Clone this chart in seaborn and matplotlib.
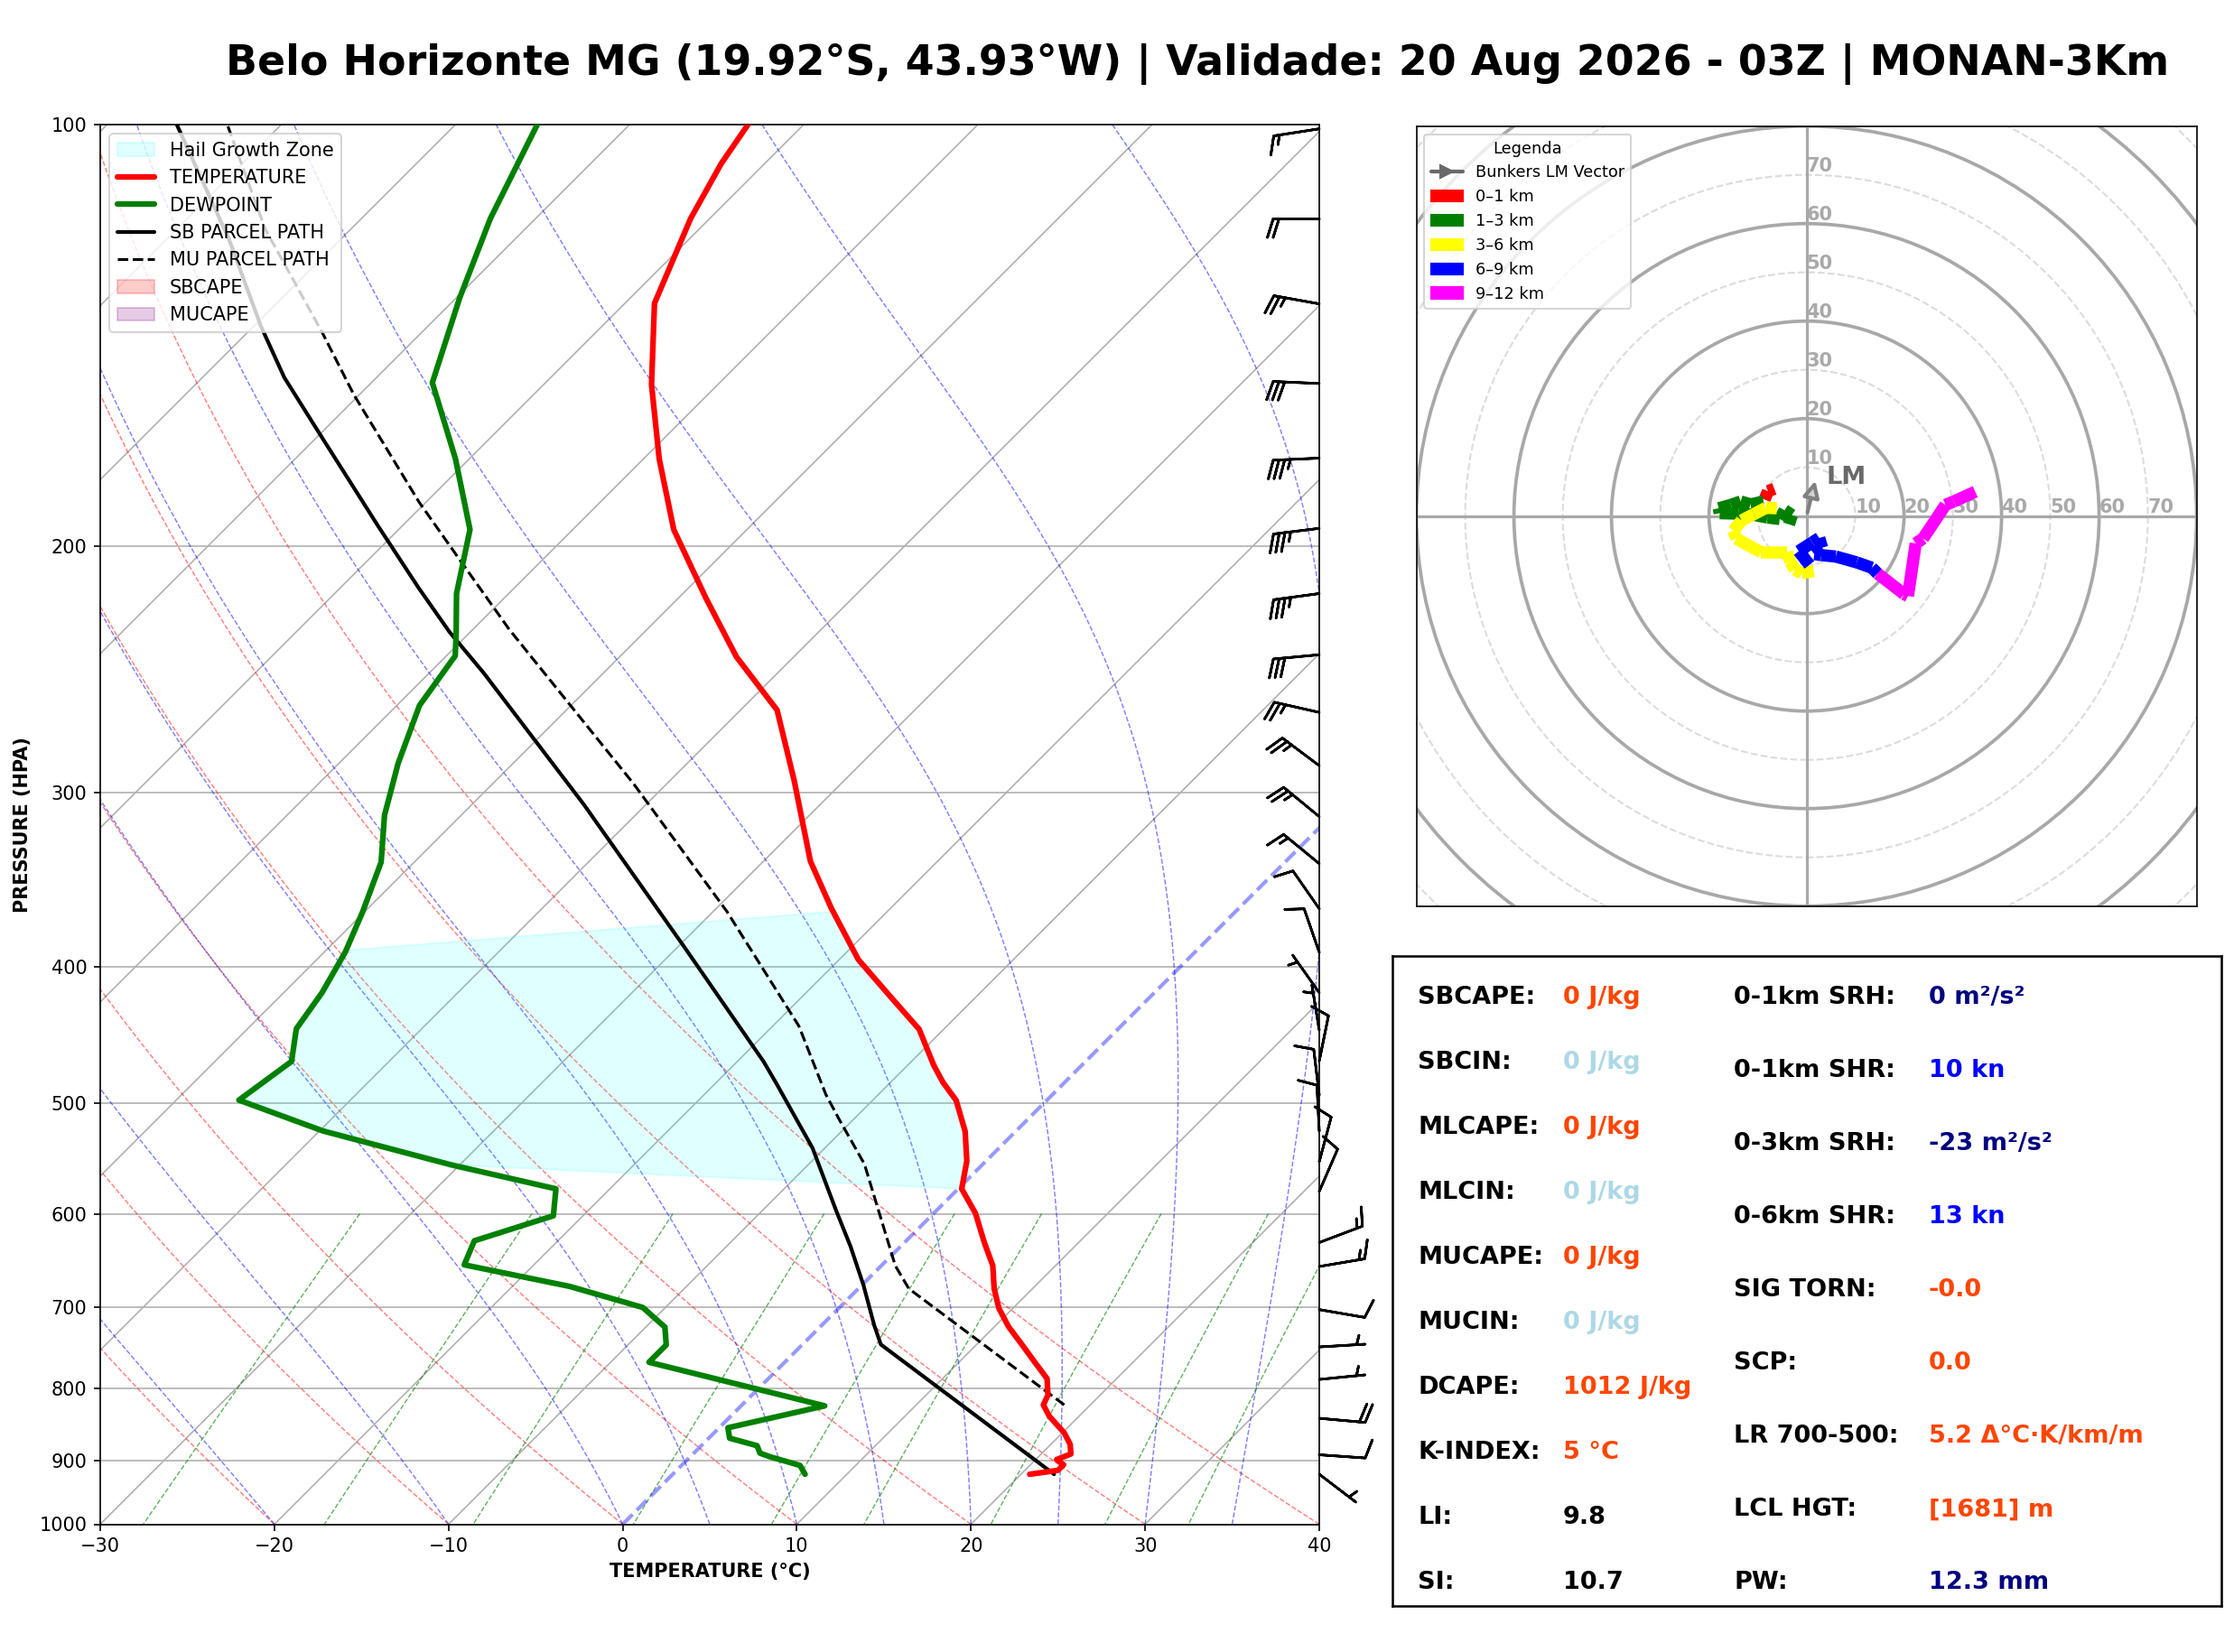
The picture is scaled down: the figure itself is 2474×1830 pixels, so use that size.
import numpy as np
import matplotlib
matplotlib.use("Agg")
import matplotlib.pyplot as plt
import matplotlib.transforms as mtransforms
from matplotlib.collections import LineCollection
from matplotlib.lines import Line2D
from matplotlib.patches import Patch, Circle
from matplotlib.ticker import ScalarFormatter, NullLocator, NullFormatter
import seaborn as sns

sns.set_style("ticks", {"axes.edgecolor": "black", "text.color": "black",
                        "xtick.color": "black", "ytick.color": "black",
                        "axes.labelcolor": "black"})
plt.rcParams['font.family'] = ['DejaVu Sans']

# ---- sounding data ----
temp_p = [921.0, 915.1, 906.7, 899.0, 890.8, 876.7, 860.3, 837.3, 821.7, 808.5,
          786.9, 764.0, 744.0, 722.4, 701.0, 678.7, 653.5, 629.3, 599.6, 575.9,
          550.2, 524.0, 497.9, 483.3, 470.0, 443.0, 420.0, 395.0, 363.0, 336.0,
          294.0, 262.0, 240.0, 218.0, 194.7, 173.3, 153.4, 134.2, 116.7, 106.6, 100.0]
temp_c = [20.5, 21.9, 21.9, 21.2, 21.7, 21.1, 20.1, 18.3, 17.3, 17.0,
          16.0, 14.2, 12.6, 10.8, 9.2, 7.8, 6.4, 4.6, 2.4, 0.2,
          -1.1, -2.9, -5.2, -7.0, -8.5, -11.4, -14.9, -18.9, -23.4, -27.3,
          -32.9, -37.9, -43.3, -48.4, -54.2, -59.1, -63.8, -68.3, -71.1, -72.5, -73.2]

dewp_p = [921.0, 907.7, 895.0, 889.6, 878.7, 868.0, 853.2, 823.0, 766.0, 744.5,
          723.0, 700.0, 676.2, 652.6, 627.3, 602.0, 575.9, 553.6, 523.6, 497.7,
          467.0, 442.6, 417.0, 390.0, 365.3, 336.5, 311.5, 286.0, 260.0, 239.6,
          230.5, 216.3, 194.7, 173.3, 152.9, 133.0, 116.7, 100.0]
dewp_c = [7.6, 6.8, 4.6, 3.8, 3.2, 1.2, 0.5, 4.8, -7.8, -7.8,
          -8.9, -11.3, -16.7, -24.0, -24.8, -21.7, -23.1, -30.5, -39.8, -46.4,
          -45.6, -47.2, -47.8, -48.8, -50.1, -51.9, -54.4, -56.6, -58.7, -59.5,
          -60.8, -63.0, -65.9, -70.8, -76.5, -79.8, -82.6, -85.3]

sb_p = [921.0, 744.0, 720.6, 674.9, 632.8, 596.4, 538.6, 483.3, 467.0, 387.0,
        306.4, 246.4, 230.4, 214.3, 193.5, 167.0, 151.6, 139.3, 120.8, 100.0]
sb_c = [21.9, 4.5, 3.0, 0.1, -2.9, -5.8, -10.7, -16.6, -18.5, -29.6,
        -43.5, -56.9, -61.2, -65.5, -71.4, -79.8, -85.3, -89.6, -96.4, -106.0]

mu_p = [821.7, 678.7, 653.5, 593.3, 553.0, 513.0, 493.3, 440.6, 365.0, 295.8,
        229.5, 204.8, 186.1, 156.0, 140.8, 118.8, 100.0]
mu_c = [18.5, 2.9, 0.8, -3.6, -6.8, -10.9, -13.0, -18.5, -29.2, -41.9,
        -57.9, -64.7, -70.4, -80.3, -85.7, -94.9, -103.1]

# hail growth zone limits (hPa) on the temperature and dewpoint curves
hgz_temp_p = (575.9, 365.0)
hgz_dewp_p = (389.0, 553.6)

# wind barbs (kt)
barb_p = [100.7, 116.8, 134.3, 153.1, 173.1, 194.3, 216.3, 239.2, 263.0, 287.1,
          312.2, 337.3, 363.3, 390.3, 417.1, 443.6, 466.6, 493.6, 523.8, 550.7,
          578.3, 629.1, 654.4, 702.5, 747.0, 788.0, 840.0, 892.0, 921.0]
barb_u = [14.8, 20.0, 24.6, 30.0, 35.0, 34.7, 34.7, 29.9, 24.4, 20.0,
          19.3, 11.6, 5.7, 3.3, 2.9, 0.8, -2.0, 1.2, 0.5, -2.6,
          -4.0, -14.0, -14.8, -9.9, -5.0, -5.0, -19.9, -10.0, -4.0]
barb_v = [2.3, 0.0, -4.4, -1.3, 1.6, 4.3, 4.7, 2.8, -5.5, -15.0,
          -15.9, -9.5, -8.2, -9.5, -4.1, -4.9, -9.8, -9.9, -10.0, -9.7,
          -9.2, -5.3, -2.5, 1.7, -0.3, -0.5, 1.8, 0.7, 3.05]

# hodograph layers (kt)
hodo_layers = ["0–1 km", "1–3 km", "3–6 km", "6–9 km", "9–12 km"]
hodo_colors = ["red", "green", "yellow", "blue", "magenta"]
hodo_u = [
    [-6.6, -7.9, -8.6],
    [-8.8, -11.5, -13.5, -15.5, -18.0, -17.8, -14.0, -11.0, -8.0, -5.5, -4.5, -3.0, -3.6],
    [-6.1, -8.3, -10.8, -13.3, -15.0, -14.4, -11.6, -9.3, -4.0, -3.3, -2.4, -1.0, 1.5],
    [0.6, -1.6, 1.2, 2.6, 3.2, 1.6, 3.0, 6.0, 10.3, 13.4, 14.6],
    [14.6, 20.0, 20.8, 22.4, 23.9, 28.5, 30.2, 34.6],
]
hodo_v = [
    [5.6, 5.1, 3.4],
    [3.0, 2.4, 3.0, 2.3, 1.6, 0.6, 0.5, 0.3, -0.3, -0.6, 1.2, 0.2, -1.7],
    [1.6, 1.7, 0.4, -0.9, -3.0, -4.6, -6.2, -7.4, -7.4, -9.4, -11.0, -11.7, -11.3],
    [-10.0, -7.2, -5.4, -4.5, -6.5, -7.8, -8.0, -8.3, -9.5, -10.6, -11.8],
    [-11.8, -16.0, -16.4, -5.6, -4.6, 2.3, 3.0, 5.0],
]
lm_u, lm_v = 2.0, 8.0

title = "Belo Horizonte MG (19.92°S, 43.93°W) | Validade: 20 Aug 2026 - 03Z | MONAN-3Km"

left_items = [("SBCAPE:", "0 J/kg", "orangered"), ("SBCIN:", "0 J/kg", "lightblue"),
              ("MLCAPE:", "0 J/kg", "orangered"), ("MLCIN:", "0 J/kg", "lightblue"),
              ("MUCAPE:", "0 J/kg", "orangered"), ("MUCIN:", "0 J/kg", "lightblue"),
              ("DCAPE:", "1012 J/kg", "orangered"), ("K-INDEX:", "5 °C", "orangered"),
              ("LI:", "9.8", "black"), ("SI:", "10.7", "black")]
right_items = [("0-1km SRH:", "0 m²/s²", "navy"), ("0-1km SHR:", "10 kn", "blue"),
               ("0-3km SRH:", "-23 m²/s²", "navy"), ("0-6km SHR:", "13 kn", "blue"),
               ("SIG TORN:", "-0.0", "orangered"), ("SCP:", "0.0", "orangered"),
               ("LR 700-500:", "5.2 Δ°C·K/km/m", "orangered"), ("LCL HGT:", "[1681] m", "orangered"),
               ("PW:", "12.3 mm", "navy")]

# ---- figure ----
W, H, DPI = 2474, 1830, 150
fig = plt.figure(figsize=(W / DPI, H / DPI), dpi=DPI)
skew_rect = [111 / W, 1 - 1688.5 / H, 1350 / W, 1550.5 / H]
ax = fig.add_axes(skew_rect)

# 45 degree skew: degC shift per decade of pressure
K = (skew_rect[3] * H) / (skew_rect[2] * W / 70.0)


def skew(t, p):
    return np.asarray(t) + K * np.log10(1000.0 / np.asarray(p))


ax.set_yscale('log')
ax.set_ylim(1000, 100)
ax.set_xlim(-30, 40)
ax.yaxis.set_major_formatter(ScalarFormatter())
ax.set_yticks(np.arange(100, 1001, 100))
ax.yaxis.set_minor_locator(NullLocator())
ax.yaxis.set_minor_formatter(NullFormatter())
ax.set_xticks(np.arange(-30, 41, 10))
ax.grid(True, axis='y', color='#b0b0b0', lw=0.8)

pp = np.linspace(1000, 100, 200)

# isotherms
for t0 in range(-120, 41, 10):
    if t0 == 0:
        continue
    ax.plot(skew(np.full_like(pp, t0), pp), pp, color='#b0b0b0', lw=0.8, zorder=1)
ax.plot(skew(np.zeros_like(pp), pp), pp, color='blue', ls='--', lw=2, alpha=0.4, zorder=2)

# dry adiabats
for t0 in range(-30, 41, 10):
    tt = (t0 + 273.15) * (pp / 1000.0) ** 0.2857 - 273.15
    ax.plot(skew(tt, pp), pp, color='red', ls='--', lw=0.7, alpha=0.5, zorder=1)


# moist adiabats
def dtdp(T, p):
    es = 6.112 * np.exp(17.67 * (T - 273.15) / (T - 29.65))
    rs = 0.622 * es / (p - es)
    return (287.04 * T + 2.501e6 * rs) / (1005.7 + 2.501e6 ** 2 * rs * 0.622 / (287.04 * T * T)) / p


for t0 in list(range(-30, 0, 10)) + list(range(0, 41, 5)):
    T = np.empty_like(pp)
    T[0] = t0 + 273.15
    for i in range(1, len(pp)):
        h = pp[i] - pp[i - 1]
        k1 = dtdp(T[i - 1], pp[i - 1])
        k2 = dtdp(T[i - 1] + h / 2 * k1, pp[i - 1] + h / 2)
        k3 = dtdp(T[i - 1] + h / 2 * k2, pp[i - 1] + h / 2)
        k4 = dtdp(T[i - 1] + h * k3, pp[i])
        T[i] = T[i - 1] + h / 6 * (k1 + 2 * k2 + 2 * k3 + k4)
    ax.plot(skew(T - 273.15, pp), pp, color='blue', ls='--', lw=0.7, alpha=0.5, zorder=1)

# mixing ratio lines
pm = np.linspace(600, 1000, 50)
for w in [0.0004, 0.001, 0.002, 0.004, 0.007, 0.01, 0.016, 0.024, 0.032]:
    e = w * pm / (0.622 + w)
    a = np.log(e / 6.112)
    td = 243.5 * a / (17.67 - a)
    ax.plot(skew(td, pm), pm, color='green', ls='--', lw=0.7, alpha=0.6, zorder=1)

# hail growth zone
lp_t = np.log(np.array(temp_p)[::-1])
lp_d = np.log(np.array(dewp_p)[::-1])
p_side_t = np.exp(np.linspace(np.log(hgz_temp_p[0]), np.log(hgz_temp_p[1]), 60))
p_side_d = np.exp(np.linspace(np.log(hgz_dewp_p[0]), np.log(hgz_dewp_p[1]), 60))
t_side = np.interp(np.log(p_side_t), lp_t, np.array(temp_c)[::-1])
d_side = np.interp(np.log(p_side_d), lp_d, np.array(dewp_c)[::-1])
ax.fill(np.concatenate([skew(t_side, p_side_t), skew(d_side, p_side_d)]),
        np.concatenate([p_side_t, p_side_d]), color='cyan', alpha=0.12, zorder=2)

# profiles
sns.lineplot(x=skew(temp_c, temp_p), y=temp_p, sort=False, estimator=None,
             color='red', lw=3, ax=ax, zorder=5)
sns.lineplot(x=skew(dewp_c, dewp_p), y=dewp_p, sort=False, estimator=None,
             color='green', lw=3, ax=ax, zorder=5)
sns.lineplot(x=skew(sb_c, sb_p), y=sb_p, sort=False, estimator=None,
             color='black', lw=2, ax=ax, zorder=4)
sns.lineplot(x=skew(mu_c, mu_p), y=mu_p, sort=False, estimator=None,
             color='black', lw=1.5, ls='--', ax=ax, zorder=4)
ax.set_xlim(-30, 40)
ax.set_ylim(1000, 100)

# barbs on right edge
trans = mtransforms.blended_transform_factory(ax.transAxes, ax.transData)
ax.barbs(np.ones(len(barb_p)), barb_p, barb_u, barb_v, transform=trans,
         clip_on=False, flip_barb=True, length=7, linewidth=1.3, zorder=6)

ax.set_xlabel("TEMPERATURE (°C)", fontsize=10, fontweight='bold')
ax.set_ylabel("PRESSURE (HPA)", fontsize=10, fontweight='bold')

handles = [Patch(facecolor='cyan', edgecolor='cyan', alpha=0.12, label='Hail Growth Zone'),
           Line2D([], [], color='red', lw=3, label='TEMPERATURE'),
           Line2D([], [], color='green', lw=3, label='DEWPOINT'),
           Line2D([], [], color='black', lw=2, label='SB PARCEL PATH'),
           Line2D([], [], color='black', lw=1.5, ls='--', label='MU PARCEL PATH'),
           Patch(facecolor='red', edgecolor='red', alpha=0.2, label='SBCAPE'),
           Patch(facecolor='purple', edgecolor='purple', alpha=0.2, label='MUCAPE')]
ax.legend(handles=handles, loc='upper left', fontsize=10)

# ---- hodograph ----
hax = fig.add_axes([1568.6 / W, 1 - 1003.7 / H, 864 / W, 864 / H])
hax.set_xlim(-80, 80)
hax.set_ylim(-80, 80)
hax.set_aspect('equal')
hax.set_xticks([])
hax.set_yticks([])
for r in range(10, 111, 10):
    if r % 20 == 0:
        hax.add_patch(Circle((0, 0), r, fill=False, color='#a8a8a8', lw=1.8, zorder=1))
    else:
        hax.add_patch(Circle((0, 0), r, fill=False, color='#dcdcdc', lw=1.0, ls='--', zorder=1))
hax.axhline(0, color='#a8a8a8', lw=1.5, zorder=1)
hax.axvline(0, color='#a8a8a8', lw=1.5, zorder=1)
for r in range(10, 71, 10):
    hax.text(r, 0, str(r), ha='left', va='bottom', color='darkgray', fontsize=10, fontweight='bold')
    hax.text(0, r, str(r), ha='left', va='bottom', color='darkgray', fontsize=10, fontweight='bold')

for uu, vv, col in zip(hodo_u, hodo_v, hodo_colors):
    pts = np.column_stack([uu, vv])
    segs = np.stack([pts[:-1], pts[1:]], axis=1)
    hax.add_collection(LineCollection(segs, colors=col, linewidths=6.5, capstyle='butt', zorder=3))

hax.annotate('', xy=(lm_u, lm_v), xytext=(0, 0),
             arrowprops=dict(arrowstyle='-|>', color='gray', lw=2, mutation_scale=18,
                             fc='lightgray'), zorder=4)
hax.text(lm_u + 2, lm_v, 'LM', ha='left', va='center', fontsize=13, fontweight='bold', color='dimgray')

hhandles = [Line2D([], [], color='dimgray', lw=2, marker='>', markersize=7, label='Bunkers LM Vector')]
hhandles += [Patch(color=c, label=l) for c, l in zip(hodo_colors, hodo_layers)]
hax.legend(handles=hhandles, loc='upper left', fontsize=8.5, title='Legenda', title_fontsize=8.5)

# ---- parameters box ----
tax = fig.add_axes([1542 / W, 1 - 1778.5 / H, 918 / W, 720 / H])
tax.set_xticks([])
tax.set_yticks([])
for s in tax.spines.values():
    s.set_linewidth(1.2)
for y, (lab, val, col) in zip(np.linspace(0.935, 0.035, len(left_items)), left_items):
    tax.text(0.031, y, lab, ha='left', va='center', fontsize=13, fontweight='bold', transform=tax.transAxes)
    tax.text(0.206, y, val, ha='left', va='center', fontsize=13, fontweight='bold', color=col,
             transform=tax.transAxes)
for y, (lab, val, col) in zip(np.linspace(0.935, 0.035, len(right_items)), right_items):
    tax.text(0.412, y, lab, ha='left', va='center', fontsize=13, fontweight='bold', transform=tax.transAxes)
    tax.text(0.647, y, val, ha='left', va='center', fontsize=13, fontweight='bold', color=col,
             transform=tax.transAxes)

fig.text(0.536, 0.961, title, ha='center', va='center', fontsize=22, fontweight='bold')

fig.savefig("out.png", dpi=DPI)
